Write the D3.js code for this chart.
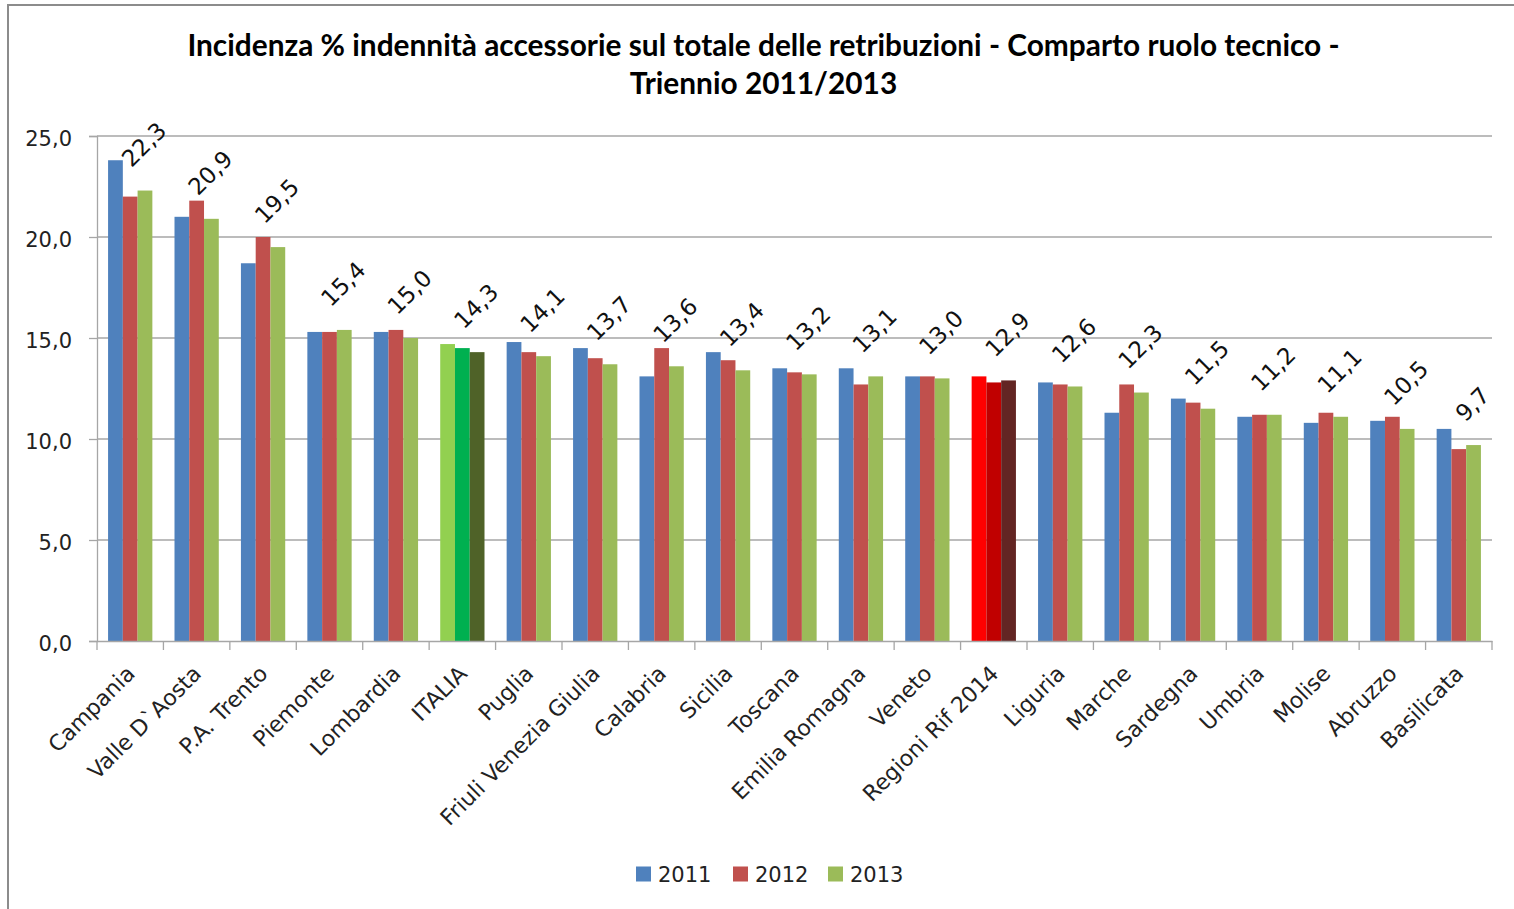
<!DOCTYPE html>
<html><head><meta charset="utf-8">
<script src="https://cdn.jsdelivr.net/npm/d3@7"></script>
<style>
html,body{margin:0;padding:0;background:#fff;}
svg{display:block;font-family:"DejaVu Sans", sans-serif;}
</style></head>
<body>
<svg id="chart" width="1514" height="909"></svg>
<script>
const categories = ["Campania","Valle D`Aosta","P.A. Trento","Piemonte","Lombardia","ITALIA","Puglia","Friuli Venezia Giulia","Calabria","Sicilia","Toscana","Emilia Romagna","Veneto","Regioni Rif 2014","Liguria","Marche","Sardegna","Umbria","Molise","Abruzzo","Basilicata"];
const series = ["2011","2012","2013"];
const values2011 = [23.8,21.0,18.7,15.3,15.3,14.7,14.8,14.5,13.1,14.3,13.5,13.5,13.1,13.1,12.8,11.3,12.0,11.1,10.8,10.9,10.5];
const values2012 = [22.0,21.8,20.0,15.3,15.4,14.5,14.3,14.0,14.5,13.9,13.3,12.7,13.1,12.8,12.7,12.7,11.8,11.2,11.3,11.1,9.5];
const values2013 = [22.3,20.9,19.5,15.4,15.0,14.3,14.1,13.7,13.6,13.4,13.2,13.1,13.0,12.9,12.6,12.3,11.5,11.2,11.1,10.5,9.7];
const yTicks = [0,5,10,15,20,25];
const seriesColors = ["#4F81BD","#C0504D","#9BBB59"];
const italiaColors = ["#92D050","#00B050","#4F6228"];
const regioniColors = ["#FF0000","#C00000","#632523"];
const titleLines = ["Incidenza % indennità accessorie sul totale delle retribuzioni - Comparto ruolo tecnico -","Triennio 2011/2013"];

const seriesValues = [values2011, values2012, values2013];
const svg = d3.select("#chart");
const fmt = v => v.toFixed(1).replace(".", ",");

// outer frame
svg.append("path").attr("d","M8,909 L8,5 L1514,5").attr("fill","none").attr("stroke","#8c8c8c").attr("stroke-width",2);

const m = {left:97, right:1492, top:136, bottom:641};
const x = d3.scaleBand().domain(categories).range([m.left, m.right]).paddingInner(0).paddingOuter(0);
const x1 = d3.scaleBand().domain(series).range([0, x.bandwidth()]).paddingInner(0).paddingOuter(0.75);
const y = d3.scaleLinear().domain([0,25]).range([m.bottom, m.top]);

// title (fit first line to reference width)
const title = svg.append("g");
const tl = title.selectAll("text").data(titleLines).join("text")
  .attr("x", 763.5).attr("y",(d,i)=>56+i*38)
  .attr("text-anchor","middle").attr("font-family","Lato, 'Open Sans', sans-serif")
  .attr("font-size",25).attr("font-weight","bold").attr("fill","#000")
  .text(d=>d);
const w0 = tl.nodes()[0].getComputedTextLength();
if (w0 > 0) tl.attr("font-size", 25 * 1153 / w0);

// gridlines
svg.append("g").selectAll("line").data(yTicks.filter(t=>t>0)).join("line")
  .attr("x1",m.left).attr("x2",m.right).attr("y1",d=>y(d)).attr("y2",d=>y(d))
  .attr("stroke","#a6a6a6").attr("stroke-width",1.3);

// y axis
const yAxis = svg.append("g").attr("transform",`translate(${m.left},0)`)
  .call(d3.axisLeft(y).tickValues(yTicks).tickSize(8).tickPadding(17).tickFormat(fmt));
yAxis.select(".domain").attr("stroke","#a6a6a6").attr("stroke-width",1.3);
yAxis.selectAll(".tick line").attr("stroke","#a6a6a6").attr("stroke-width",1.3);
yAxis.selectAll(".tick text").attr("font-size",21).attr("fill","#222")
  .attr("font-family","'DejaVu Sans', sans-serif").attr("dy","0.45em");

// bars
const colorFor = (cat, si) => cat==="ITALIA" ? italiaColors[si] : (cat==="Regioni Rif 2014" ? regioniColors[si] : seriesColors[si]);
const groups = svg.append("g").selectAll("g").data(categories).join("g")
  .attr("transform", d=>`translate(${x(d)},0)`);
groups.selectAll("rect").data((cat,ci)=>series.map((s,si)=>({cat, s, si, v: seriesValues[si][ci]}))).join("rect")
  .attr("x", d=>x1(d.s)).attr("width", x1.bandwidth())
  .attr("y", d=>y(d.v)).attr("height", d=>y(0)-y(d.v))
  .attr("fill", d=>colorFor(d.cat,d.si));

// x axis
const xAxis = svg.append("g").attr("transform",`translate(0,${m.bottom})`)
  .call(d3.axisBottom(x).tickSize(0).tickFormat(""));
xAxis.select(".domain").attr("stroke","#a6a6a6").attr("stroke-width",1.3);
const boundaries = categories.map(c=>x(c)).concat([x(categories[categories.length-1])+x.bandwidth()]);
svg.append("g").selectAll("line").data(boundaries).join("line")
  .attr("x1",d=>d).attr("x2",d=>d).attr("y1",m.bottom).attr("y2",m.bottom+9)
  .attr("stroke","#a6a6a6").attr("stroke-width",1.3);

// category labels
svg.append("g").selectAll("text").data(categories).join("text")
  .attr("transform", d=>`translate(${x(d)+x.bandwidth()/2+6},${m.bottom+34}) rotate(-45)`)
  .attr("text-anchor","end").attr("font-size",22).attr("fill","#222")
  .text(d=>d);

// data labels (2013): rotated box centred over bar
const dl = svg.append("g").selectAll("text").data(categories).join("text")
  .attr("text-anchor","middle").attr("dominant-baseline","central")
  .attr("font-size",23).attr("fill","#111")
  .text((d,i)=>fmt(values2013[i]));
dl.each(function(d,i){
  const bb = this.getBBox();
  const half = (bb.width + bb.height*0.75) / (2*Math.SQRT2);
  const cx = x(d)+x1("2013")+x1.bandwidth()/2 - 1;
  const cy = y(values2013[i]) - 21 - half;
  d3.select(this).attr("transform",`translate(${cx},${cy}) rotate(-45)`);
});

// legend
const legX = [636, 733, 828];
const leg = svg.append("g").selectAll("g").data(series).join("g")
  .attr("transform",(d,i)=>`translate(${legX[i]},874)`);
leg.append("rect").attr("x",0).attr("y",-7.5).attr("width",15).attr("height",15).attr("fill",(d,i)=>seriesColors[i]);
leg.append("text").attr("x",22).attr("y",1).attr("dy","0.35em").attr("font-size",21).attr("fill","#222").text(d=>d);
</script>
</body></html>
